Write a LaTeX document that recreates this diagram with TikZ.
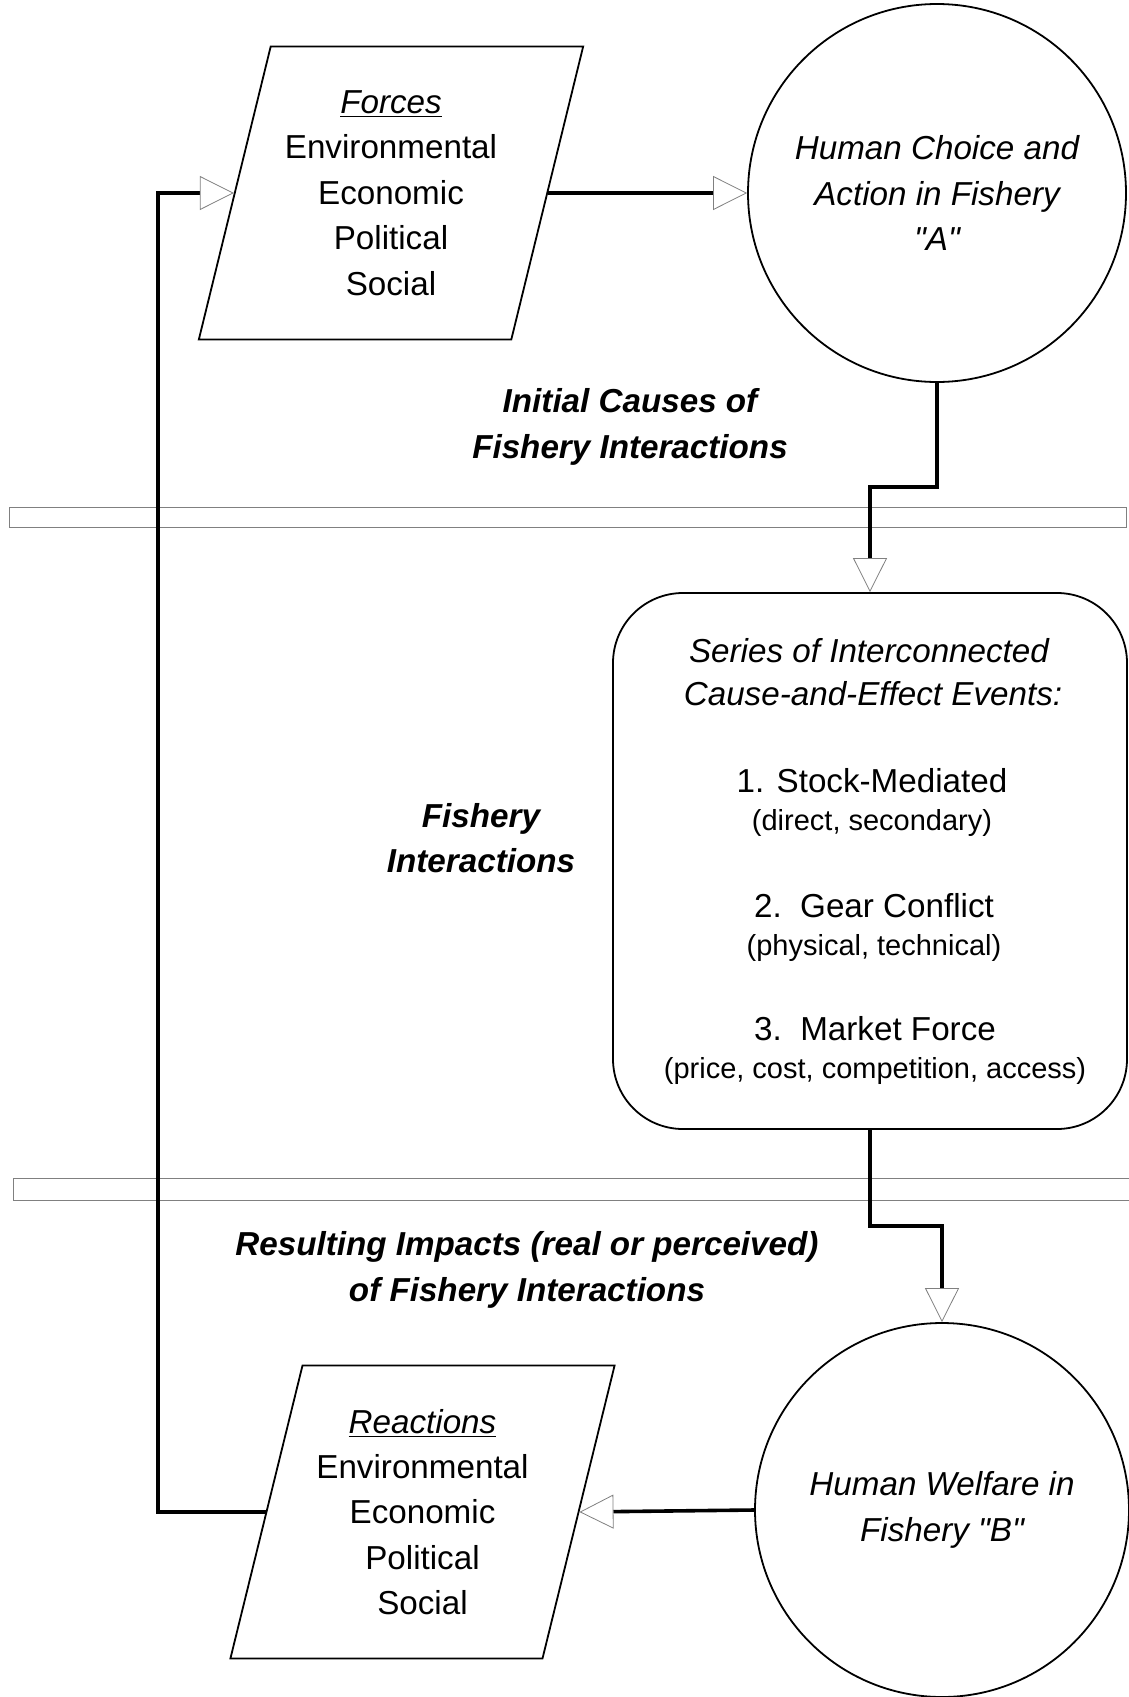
\documentclass[tikz,border=0pt]{standalone}
\usepackage{fontspec}
\setmainfont{Liberation Sans}
\usetikzlibrary{arrows.meta,shapes.geometric,positioning}
\newcommand{\bigtext}{\fontsize{16.6}{22.7}\selectfont}
\newcommand{\smalltext}{\fontsize{14.5}{18}\selectfont}
\newcommand{\dq}{\textquotedbl}
\tikzstyle{slanted}=[trapezium, draw, line width=0.9pt, trapezium left angle=72.8, trapezium right angle=107.2,
  trapezium stretches=true, minimum width=192.5pt, minimum height=146.5pt, inner sep=0pt, align=center, font=\bigtext]
\tikzstyle{bubble}=[circle, draw, line width=0.9pt, inner sep=0pt, align=center, font=\bigtext\itshape]
\tikzstyle{eventbox}=[rectangle, draw, line width=0.9pt, rounded corners=35pt, minimum width=257pt, minimum height=268pt]
\tikzstyle{flow}=[line width=1.8pt, -{Triangle[open, length=17pt, width=17pt, line width=0.4pt, color=gray]}]
\tikzstyle{heading}=[align=center, font=\bigtext\bfseries\itshape]
\tikzstyle{divider}=[draw=gray, line width=0.5pt]
\newcommand{\event}{\node[anchor=base]}

\begin{document}
\begin{tikzpicture}[x=0.5pt, y=-0.5pt]
\useasboundingbox (0,0) rectangle (1129,1697);
% separators
\draw[divider] (9,507) rectangle (1126,527);
\draw[divider] (13,1178) rectangle (1140,1200);

\node[slanted] (forces) at (391,193)
  {\textit{\underline{Forces}}\\Environmental\\Economic\\Political\\Social};
\node[bubble, minimum size=189pt] (choiceA) at (937,193) {Human Choice and\\Action in Fishery\\\dq A\dq};
\node[eventbox] (series) at (870,861) {};
\node[bubble, minimum size=187pt] (welfareB) at (942,1510) {Human Welfare in\\Fishery \dq B\dq};
\node[slanted] (reactions) at (422.5,1512)
  {\textit{\underline{Reactions}}\\Environmental\\Economic\\Political\\Social};

\event[font=\bigtext\itshape] (seriesA) at (869,662) {Series of Interconnected};
\event[font=\bigtext\itshape] (seriesB) at (873,705) {Cause-and-Effect Events:};
\event[font=\bigtext] (stock) at (872,792) {1. Stock-Mediated};
\event[font=\smalltext] (stockSub) at (872,830) {(direct, secondary)};
\event[font=\bigtext] (gear) at (874,917) {2.\ \ Gear Conflict};
\event[font=\smalltext] (gearSub) at (874,955) {(physical, technical)};
\event[font=\bigtext] (market) at (875,1040) {3.\ \ Market Force};
\event[font=\smalltext] (marketSub) at (875,1078) {(price, cost, competition, access)};

\node[heading] (causes) at (630,427) {Initial Causes of\\Fishery Interactions};
\node[heading] (interactions) at (481,838) {Fishery\\Interactions};
\node[heading] (impacts) at (527,1270) {Resulting Impacts (real or perceived)\\of Fishery Interactions};

\coordinate (loop) at (158,850);
\coordinate (stepA) at (0,487);
\coordinate (stepB) at (0,1226);
\draw[flow] (forces.east) -- (choiceA.west);
\draw[flow] (choiceA.south) -- (choiceA.south |- stepA) -- (series.north |- stepA) -- (series.north);
\draw[flow] (series.south) -- (series.south |- stepB) -- (welfareB.north |- stepB) -- (welfareB.north);
\draw[flow] (welfareB.west) -- (reactions.east);
\draw[flow] (reactions.west) -- (reactions.west -| loop) -- (forces.west -| loop) -- (forces.west);
\end{tikzpicture}
\end{document}
